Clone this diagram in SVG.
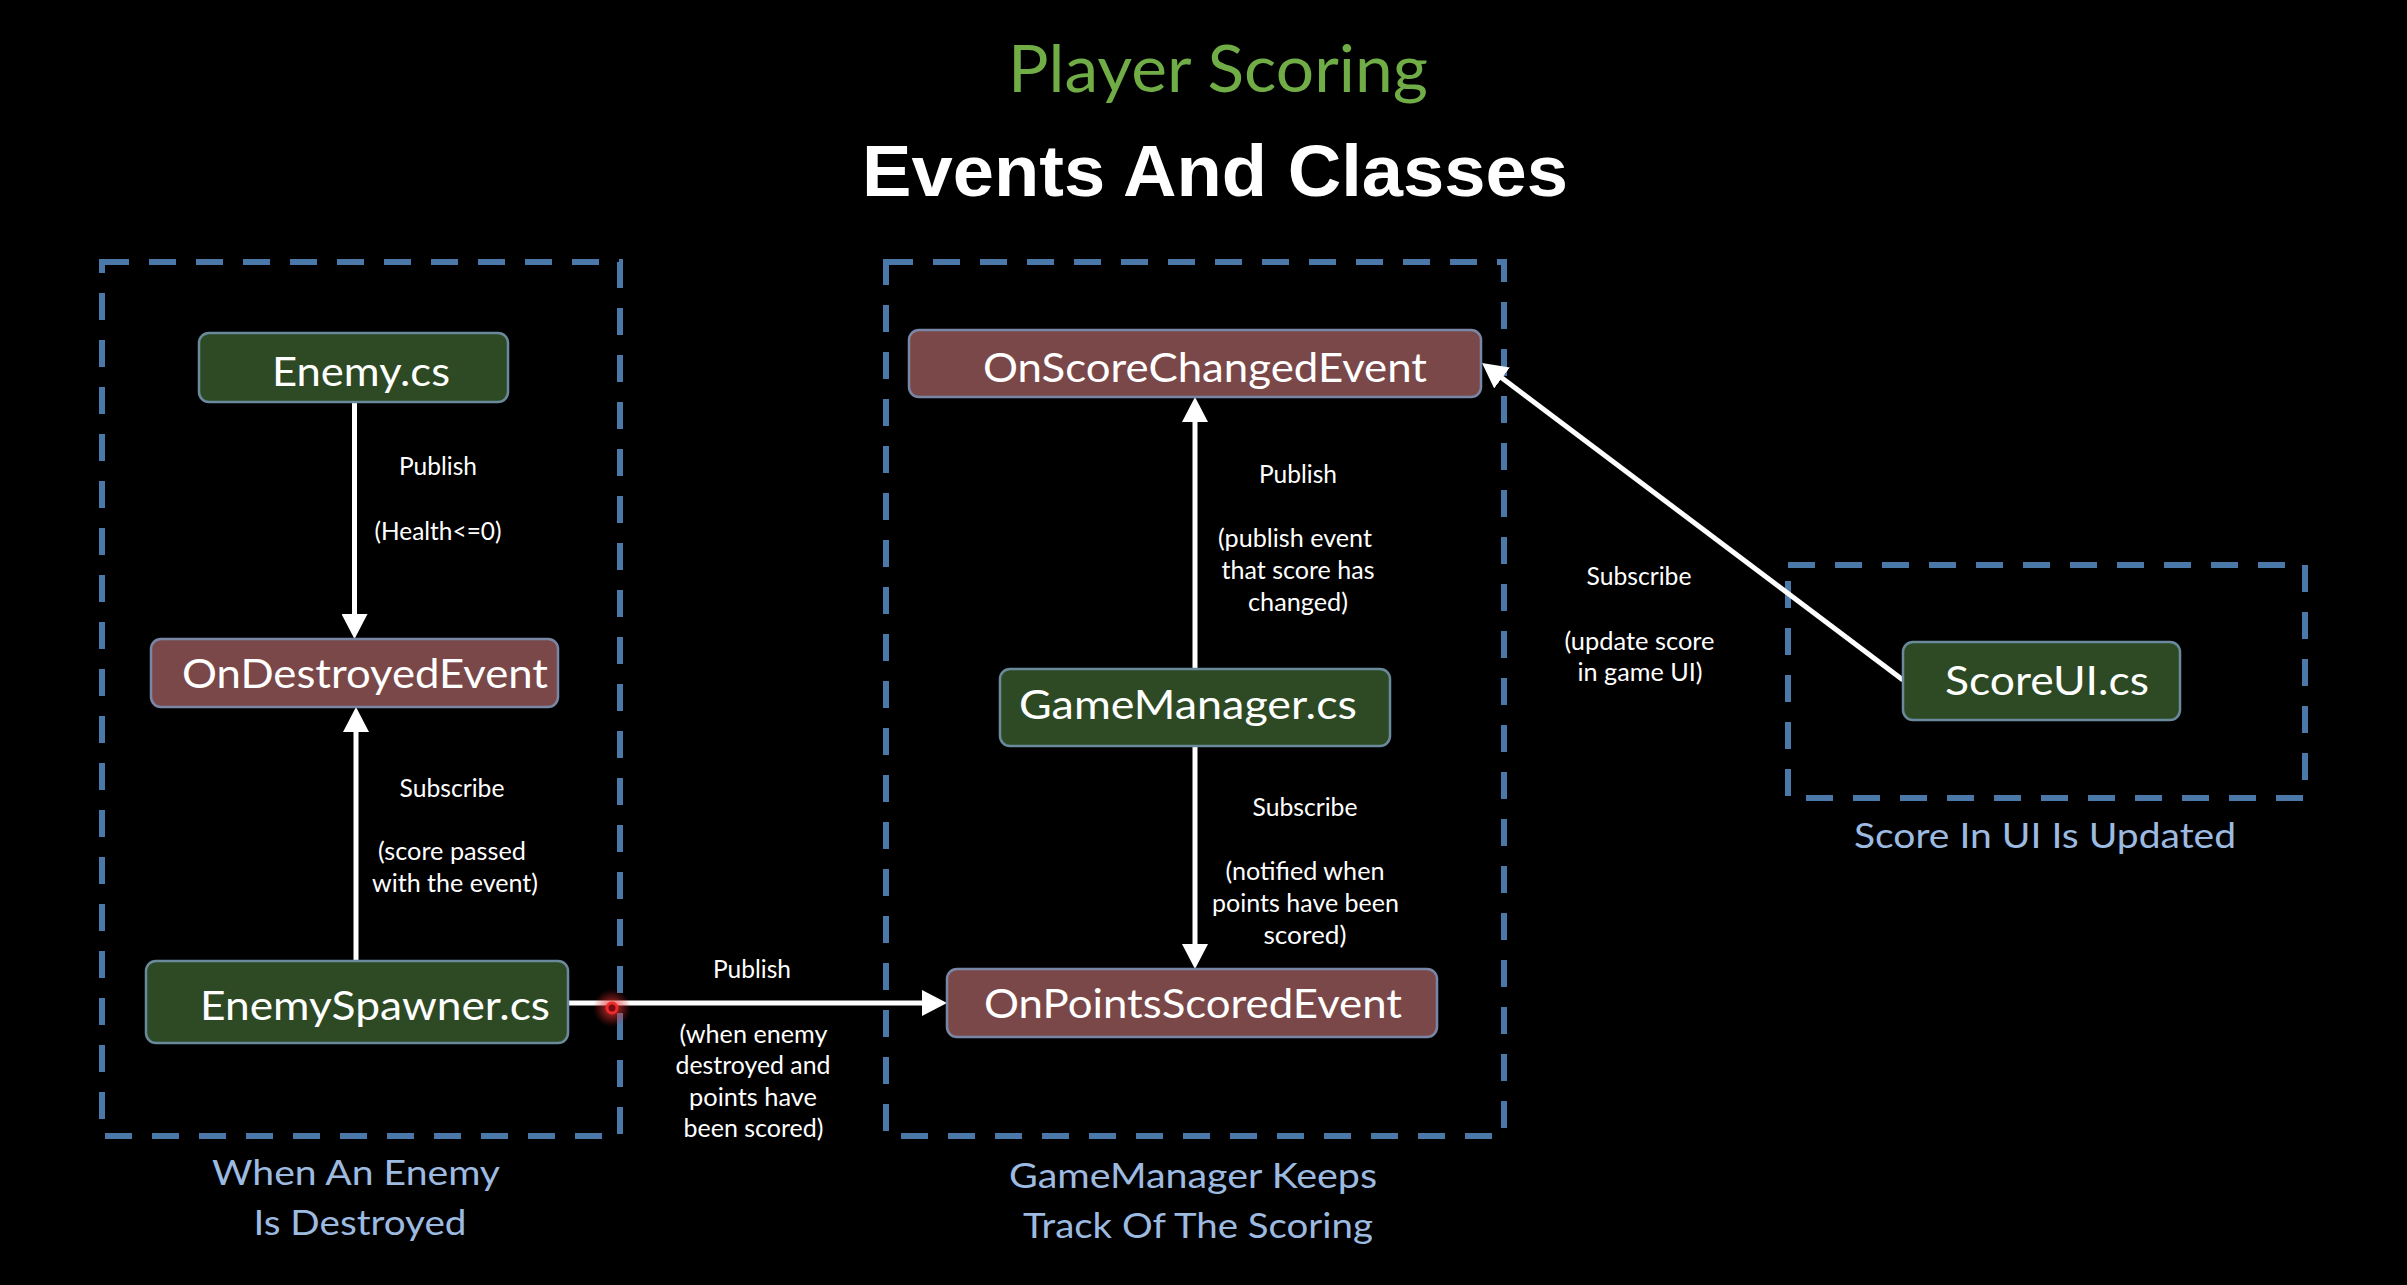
<svg xmlns="http://www.w3.org/2000/svg" width="2407" height="1285" viewBox="0 0 2407 1285">
  <style>
    .bg { fill: #000000; }
    .frame { fill: none; stroke: #4a78a8; stroke-width: 6; stroke-dasharray: 27 20; }
    .cls { fill: #2e4a24; stroke: #6a8a9c; stroke-width: 2.5; }
    .evt { fill: #7a4848; stroke: #7a86a6; stroke-width: 2.5; }
    .node-text { font-family: Lato, "Open Sans", sans-serif; font-size: 40px; fill: #ffffff; text-anchor: middle; }
    .lbl { font-family: Lato, "Open Sans", sans-serif; font-size: 25px; fill: #ffffff; text-anchor: middle; }
    .cap { font-family: Lato, "Open Sans", sans-serif; font-size: 34.5px; fill: #9dbbe0; text-anchor: middle; }
    .edge { fill: none; stroke: #ffffff; stroke-width: 5; marker-end: url(#arrow); }
  </style>
  <defs>
    <marker id="arrow" viewBox="0 0 25 26" refX="5" refY="13" markerWidth="25" markerHeight="26" markerUnits="userSpaceOnUse" orient="auto">
      <path d="M0,0 L25,13 L0,26 Z" fill="#ffffff"/>
    </marker>
    <radialGradient id="glow">
      <stop offset="0" stop-color="#ff3030" stop-opacity="0.9"/>
      <stop offset="0.5" stop-color="#e03030" stop-opacity="0.45"/>
      <stop offset="1" stop-color="#c02020" stop-opacity="0"/>
    </radialGradient>
  </defs>

  <rect class="bg" x="0" y="0" width="2407" height="1285"/>

  <g id="titles">
    <text x="1218" y="92" font-family="Lato, 'Open Sans', sans-serif" font-size="66" fill="#70ad47" text-anchor="middle" textLength="420" lengthAdjust="spacingAndGlyphs">Player Scoring</text>
    <text x="1215" y="196" font-family="'Liberation Sans', Arial, sans-serif" font-weight="bold" font-size="72" fill="#ffffff" text-anchor="middle" textLength="706" lengthAdjust="spacingAndGlyphs">Events And Classes</text>
  </g>

  <g id="group-enemy-destroyed">
    <rect class="frame" x="102" y="262" width="518" height="874"/>
    <text class="cap" x="356" y="1185" textLength="288" lengthAdjust="spacingAndGlyphs">When An Enemy</text>
    <text class="cap" x="360" y="1235" textLength="213" lengthAdjust="spacingAndGlyphs">Is Destroyed</text>
  </g>
  <g id="group-gamemanager">
    <rect class="frame" x="886" y="262" width="618" height="874"/>
    <text class="cap" x="1193" y="1188" textLength="368" lengthAdjust="spacingAndGlyphs">GameManager Keeps</text>
    <text class="cap" x="1198" y="1238" textLength="350" lengthAdjust="spacingAndGlyphs">Track Of The Scoring</text>
  </g>
  <g id="group-scoreui">
    <rect class="frame" x="1788" y="565" width="517" height="233"/>
    <text class="cap" x="2045" y="848" textLength="382" lengthAdjust="spacingAndGlyphs">Score In UI Is Updated</text>
  </g>

  <g id="connectors">
    <line class="edge" x1="354.5" y1="402" x2="354.5" y2="619"/>
    <line class="edge" x1="356" y1="961" x2="356" y2="727"/>
    <line class="edge" x1="568" y1="1003" x2="927" y2="1003"/>
    <line class="edge" x1="1195" y1="669" x2="1195" y2="417"/>
    <line class="edge" x1="1195" y1="746" x2="1195" y2="949"/>
    <line class="edge" x1="1903" y1="680" x2="1498" y2="375"/>
  </g>

  <g id="edge-labels">
    <text class="lbl" x="438" y="475" textLength="78" lengthAdjust="spacingAndGlyphs">Publish</text>
    <text class="lbl" x="438" y="540" textLength="127" lengthAdjust="spacingAndGlyphs">(Health&lt;=0)</text>

    <text class="lbl" x="452" y="797" textLength="105" lengthAdjust="spacingAndGlyphs">Subscribe</text>
    <text class="lbl" x="452" y="860" textLength="148" lengthAdjust="spacingAndGlyphs">(score passed</text>
    <text class="lbl" x="455" y="892" textLength="166" lengthAdjust="spacingAndGlyphs">with the event)</text>

    <text class="lbl" x="752" y="978" textLength="78" lengthAdjust="spacingAndGlyphs">Publish</text>
    <text class="lbl" x="753.5" y="1043" textLength="148" lengthAdjust="spacingAndGlyphs">(when enemy</text>
    <text class="lbl" x="753" y="1074" textLength="155" lengthAdjust="spacingAndGlyphs">destroyed and</text>
    <text class="lbl" x="753" y="1106" textLength="128" lengthAdjust="spacingAndGlyphs">points have</text>
    <text class="lbl" x="753.5" y="1137" textLength="140" lengthAdjust="spacingAndGlyphs">been scored)</text>

    <text class="lbl" x="1298" y="483" textLength="78" lengthAdjust="spacingAndGlyphs">Publish</text>
    <text class="lbl" x="1295" y="547" textLength="154" lengthAdjust="spacingAndGlyphs">(publish event</text>
    <text class="lbl" x="1298" y="579" textLength="153" lengthAdjust="spacingAndGlyphs">that score has</text>
    <text class="lbl" x="1298" y="611" textLength="100" lengthAdjust="spacingAndGlyphs">changed)</text>

    <text class="lbl" x="1305" y="816" textLength="105" lengthAdjust="spacingAndGlyphs">Subscribe</text>
    <text class="lbl" x="1305" y="880" textLength="159" lengthAdjust="spacingAndGlyphs">(notified when</text>
    <text class="lbl" x="1305.5" y="912" textLength="187" lengthAdjust="spacingAndGlyphs">points have been</text>
    <text class="lbl" x="1305" y="944" textLength="83" lengthAdjust="spacingAndGlyphs">scored)</text>

    <text class="lbl" x="1639" y="585" textLength="105" lengthAdjust="spacingAndGlyphs">Subscribe</text>
    <text class="lbl" x="1639.5" y="650" textLength="150" lengthAdjust="spacingAndGlyphs">(update score</text>
    <text class="lbl" x="1640" y="681" textLength="125" lengthAdjust="spacingAndGlyphs">in game UI)</text>
  </g>

  <g id="node-enemy">
    <rect class="cls" x="199" y="333" width="309" height="69" rx="10"/>
    <text class="node-text" x="361" y="386" textLength="178" lengthAdjust="spacingAndGlyphs">Enemy.cs</text>
  </g>
  <g id="node-ondestroyedevent">
    <rect class="evt" x="151" y="639" width="407" height="68" rx="10"/>
    <text class="node-text" x="365" y="688" textLength="366" lengthAdjust="spacingAndGlyphs">OnDestroyedEvent</text>
  </g>
  <g id="node-enemyspawner">
    <rect class="cls" x="146" y="961" width="422" height="82" rx="10"/>
    <text class="node-text" x="375" y="1020" textLength="350" lengthAdjust="spacingAndGlyphs">EnemySpawner.cs</text>
  </g>
  <g id="node-onscorechangedevent">
    <rect class="evt" x="909" y="330" width="572" height="67" rx="10"/>
    <text class="node-text" x="1205" y="382" textLength="444" lengthAdjust="spacingAndGlyphs">OnScoreChangedEvent</text>
  </g>
  <g id="node-gamemanager">
    <rect class="cls" x="1000" y="669" width="390" height="77" rx="10"/>
    <text class="node-text" x="1188" y="719" textLength="338" lengthAdjust="spacingAndGlyphs">GameManager.cs</text>
  </g>
  <g id="node-onpointsscoredevent">
    <rect class="evt" x="947" y="969" width="490" height="68" rx="10"/>
    <text class="node-text" x="1193" y="1018" textLength="418" lengthAdjust="spacingAndGlyphs">OnPointsScoredEvent</text>
  </g>
  <g id="node-scoreui">
    <rect class="cls" x="1903" y="642" width="277" height="78" rx="10"/>
    <text class="node-text" x="2047" y="695" textLength="204" lengthAdjust="spacingAndGlyphs">ScoreUI.cs</text>
  </g>

  <g id="cursor-highlight">
    <circle cx="612" cy="1008" r="19" fill="url(#glow)"/>
    <circle cx="612" cy="1008" r="5" fill="#7a0a10" stroke="#ee2a2a" stroke-width="3"/>
  </g>
</svg>
